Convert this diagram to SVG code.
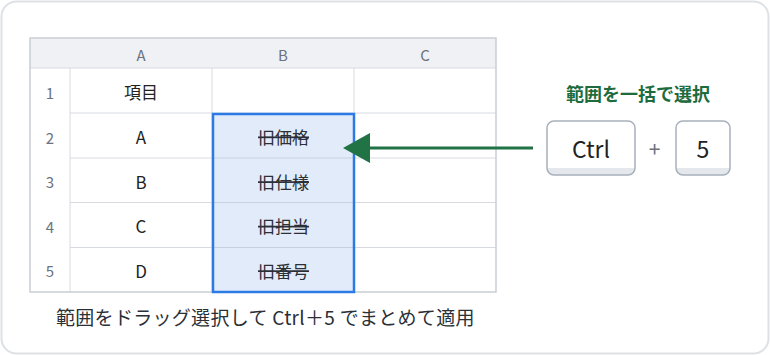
<svg xmlns="http://www.w3.org/2000/svg" width="770" height="355" viewBox="0 0 770 355">
<style>
text{font-family:"Noto Sans CJK JP","Noto Sans",sans-serif;}
.hdr{font-size:15px;fill:#6b7280;text-anchor:middle;}
.rn{font-size:15px;fill:#6b7280;text-anchor:middle;}
.cell{font-size:17px;fill:#222;text-anchor:middle;}
.old{font-size:17px;fill:#2b2f36;text-anchor:middle;text-decoration:line-through;}
.grid{stroke:#d6dae0;stroke-width:1;fill:none;}
.key{fill:none;stroke:#a8b0bb;stroke-width:1.5;}
.keyb{fill:#e4e8ed;}
.keyt{font-size:23px;fill:#222;text-anchor:middle;}
</style>
<defs>
<clipPath id="kc1"><rect x="547" y="121" width="88" height="54" rx="7"/></clipPath>
<clipPath id="kc2"><rect x="676" y="121" width="54" height="54" rx="7"/></clipPath>
</defs>
<rect x="1.5" y="1.5" width="767" height="352" rx="15" fill="#fff" stroke="#dde1e6" stroke-width="2"/>
<g id="sheet">
<rect x="30" y="38" width="466" height="30" fill="#eff1f4"/>
<g class="grid">
<line x1="70" y1="68" x2="70" y2="292"/>
<line x1="212" y1="68" x2="212" y2="292"/>
<line x1="354" y1="68" x2="354" y2="292"/>
<line x1="70" y1="113" x2="496" y2="113"/>
<line x1="70" y1="158" x2="496" y2="158"/>
<line x1="70" y1="202.5" x2="496" y2="202.5"/>
<line x1="70" y1="247.5" x2="496" y2="247.5"/>
<line x1="30" y1="68" x2="496" y2="68"/>
</g>
<rect x="30" y="38" width="466" height="254" fill="none" stroke="#c9ced5" stroke-width="1.5"/>
<text class="hdr" x="141" y="61">A</text>
<text class="hdr" x="283" y="61">B</text>
<text class="hdr" x="425" y="61">C</text>
<text class="rn" x="50" y="98.5">1</text>
<text class="rn" x="50" y="143.5">2</text>
<text class="rn" x="50" y="188.3">3</text>
<text class="rn" x="50" y="232.8">4</text>
<text class="rn" x="50" y="277.3">5</text>
<text class="cell" x="141" y="99">項目</text>
<text class="cell" x="141" y="144">A</text>
<text class="cell" x="141" y="188.8">B</text>
<text class="cell" x="141" y="233.3">C</text>
<text class="cell" x="141" y="277.8">D</text>
</g>
<g id="selection">
<rect x="213" y="114" width="141" height="178" fill="#e2ebf9"/>
<line x1="213" y1="158" x2="354" y2="158" stroke="#c6d1e0"/>
<line x1="213" y1="202.5" x2="354" y2="202.5" stroke="#c6d1e0"/>
<line x1="213" y1="247.5" x2="354" y2="247.5" stroke="#c6d1e0"/>
<rect x="213" y="114" width="141" height="178" fill="none" stroke="#2c7be5" stroke-width="2.5"/>
<text class="old" x="283.5" y="144">旧価格</text>
<text class="old" x="283.5" y="188.8">旧仕様</text>
<text class="old" x="283.5" y="233.3">旧担当</text>
<text class="old" x="283.5" y="277.8">旧番号</text>
</g>
<g id="connectors">
<line x1="533" y1="148" x2="368" y2="148" stroke="#217346" stroke-width="3"/>
<polygon points="343,148 370,133 370,163" fill="#217346"/>
</g>
<g id="title">
<text x="638" y="101" font-size="18" font-weight="bold" fill="#1e6b3d" text-anchor="middle">範囲を一括で選択</text>
</g>
<g id="key-ctrl">
<rect x="547" y="121" width="88" height="54" rx="7" fill="#fff"/>
<rect x="547" y="168" width="88" height="8" class="keyb" clip-path="url(#kc1)"/>
<rect x="547" y="121" width="88" height="54" rx="7" class="key"/>
<text class="keyt" x="591" y="158">Ctrl</text>
</g>
<g id="plus">
<text x="654.5" y="157" font-size="21" fill="#6b7280" text-anchor="middle">+</text>
</g>
<g id="key-5">
<rect x="676" y="121" width="54" height="54" rx="7" fill="#fff"/>
<rect x="676" y="168" width="54" height="8" class="keyb" clip-path="url(#kc2)"/>
<rect x="676" y="121" width="54" height="54" rx="7" class="key"/>
<text class="keyt" x="703" y="158">5</text>
</g>
<g id="caption">
<text x="56" y="325" font-size="19" letter-spacing="0.3" fill="#2b2f36">範囲をドラッグ選択して Ctrl＋5 でまとめて適用</text>
</g>
</svg>
